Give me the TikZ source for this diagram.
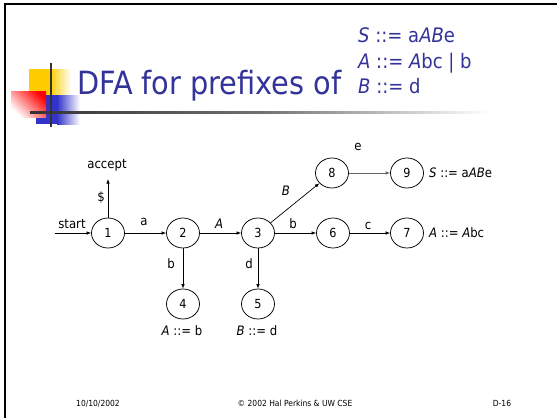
\documentclass[tikz,border=0pt]{standalone}
\usepackage{fontspec}
\setmainfont{DejaVu Sans Condensed}
\usetikzlibrary{arrows.meta, shapes.geometric}

\definecolor{slideblue}{HTML}{333399}
\definecolor{logoyellow}{HTML}{FFCC00}
\definecolor{logoblue}{HTML}{3333CC}
\definecolor{logored}{HTML}{FF0000}
\definecolor{rulegray}{HTML}{333333}

\tikzset{
  state/.style={ellipse, draw, line width=0.75pt, minimum width=33pt, minimum height=30pt, inner sep=0pt, font=\fontsize{12.5}{14}\selectfont},
  trans/.style={-{Latex[length=4.5pt,width=3.5pt]}, line width=0.7pt},
  lab/.style={anchor=base, inner sep=0pt, font=\fontsize{13}{15}\selectfont},
  footer/.style={anchor=base, inner sep=0pt, font=\fontsize{8.4}{10}\selectfont},
  gram/.style={anchor=base west, inner sep=0pt, text=slideblue, font=\fontsize{20}{23}\selectfont}
}

\begin{document}
\begin{tikzpicture}[x=1pt, y=-1pt]
\useasboundingbox (0,0) rectangle (557,418);
\fill[white] (0,0) rectangle (557,418);

% slide frame
\draw[line width=2.2pt] (5,418) -- (5,4) -- (557,4);

% logo squares
\fill[logoyellow] (29,69) rectangle (50,95);
\shade[left color=logoyellow, right color=white] (50,69) rectangle (71,95);
\fill[logoblue] (36,95) rectangle (57,124);
\shade[left color=logoblue, right color=white] (57,95) rectangle (80,124);
\shade[top color=logored, bottom color=white, shading angle=-45] (11,91) rectangle (46,117);
% title rule and cross bar
\shade[left color=rulegray, right color=white, middle color=rulegray!70] (30,111) rectangle (490,113.5);
\draw[line width=1.3pt, rulegray] (51,63) -- (51,127);

% title and grammar
\node[anchor=base west, inner sep=0pt, text=slideblue, font=\fontsize{32}{36}\selectfont] (title) at (77,94) {DFA for prefixes of};
\node[gram] (g1) at (358,42) {\textit{S} ::= a\textit{AB}e};
\node[gram] (g2) at (358,68) {\textit{A} ::= \textit{A}bc | b};
\node[gram] (g3) at (358,93) {\textit{B} ::= d};

% states
\node[state] (n1) at (108,233) {1};
\node[state] (n2) at (183,233) {2};
\node[state] (n3) at (258,233) {3};
\node[state] (n6) at (333,233) {6};
\node[state] (n7) at (407,233) {7};
\node[state] (n8) at (332,173) {8};
\node[state] (n9) at (407,173) {9};
\node[state] (n4) at (183,304) {4};
\node[state] (n5) at (258,304) {5};

% start and accept
\coordinate (startpt) at (55,233);
\coordinate (accpt) at (108,179);
\draw[trans] (startpt) -- (n1);
\draw[trans] (n1) -- (accpt);
\node[lab] (startlab) at (72,228) {start};
\node[lab] (acclab) at (107,168) {accept};
\node[lab] (dollar) at (101,201) {\$};

% transitions
\draw[trans] (n1) -- (n2);
\draw[trans] (n2) -- (n3);
\draw[trans] (n3) -- (n6);
\draw[trans] (n6) -- (n7);
\draw[trans] (n3) -- (n8);
\draw[trans, draw=gray!80!black] (n8) -- (n9);
\draw[trans] (n2) -- (n4);
\draw[trans] (n3) -- (n5);

% transition labels
\node[lab] (la) at (144,225) {a};
\node[lab] (lA) at (219,228) {\textit{A}};
\node[lab] (lb1) at (293,228) {b};
\node[lab] (lc) at (368,229) {c};
\node[lab] (le) at (358,150) {e};
\node[lab] (lB) at (286,195) {\textit{B}};
\node[lab] (lb2) at (171,268) {b};
\node[lab] (ld) at (249,268) {d};

% reductions
\node[lab] (r4) at (182,335) {\textit{A} ::= b};
\node[lab] (r5) at (257,335) {\textit{B} ::= d};
\node[lab, anchor=base west] (r9) at (429,177) {\textit{S} ::= a\textit{AB}e};
\node[lab, anchor=base west] (r7) at (429,237) {\textit{A} ::= \textit{A}bc};

% footer
\node[footer] (date) at (98,406) {10/10/2002};
\node[footer] (copy) at (295,406) {© 2002 Hal Perkins \& UW CSE};
\node[footer] (page) at (502,406) {D-16};
\end{tikzpicture}
\end{document}
